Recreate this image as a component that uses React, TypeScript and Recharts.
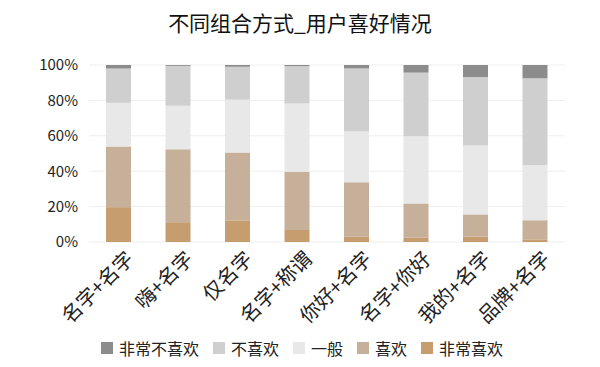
import React from 'react';
import { BarChart, Bar, XAxis, YAxis, CartesianGrid, Legend } from 'recharts';

const categories = ['名字+名字', '嗨+名字', '仅名字', '名字+称谓', '你好+名字', '名字+你好', '我的+名字', '品牌+名字'];
const veryDislike = [2, 0.5, 1, 0.6, 1.9, 4.3, 6.8, 7.5];
const dislike = [19.4, 22.5, 18.6, 21.2, 35.7, 35.9, 38.7, 49.2];
const neutral = [24.6, 24.6, 29.9, 38.5, 28.6, 38, 38.9, 31];
const like = [34.3, 41.2, 38.3, 32.9, 30.8, 19.2, 12.6, 10.8];
const veryLike = [19.7, 11.2, 12.2, 6.8, 3, 2.6, 3, 1.5];
const yTicks = [0, 20, 40, 60, 80, 100];

// bottom to top
const SERIES = [
  { key: '非常喜欢', values: veryLike, color: '#c69d6f' },
  { key: '喜欢', values: like, color: '#c7b09a' },
  { key: '一般', values: neutral, color: '#e8e8e8' },
  { key: '不喜欢', values: dislike, color: '#cfcfcf' },
  { key: '非常不喜欢', values: veryDislike, color: '#8c8c8c' },
];

const data = categories.map((name, i) => {
  const row: any = { name };
  SERIES.forEach((s) => { row[s.key] = s.values[i]; });
  return row;
});

const FONT = '"Noto Sans CJK SC", "Noto Sans", sans-serif';

const LegendContent = () => (
  <div style={{ display: 'flex', justifyContent: 'center', fontFamily: FONT, fontSize: 16, color: '#222', marginLeft: 18, marginTop: 2 }}>
    {[...SERIES].reverse().map((s) => (
      <div key={s.key} style={{ display: 'flex', alignItems: 'center', marginRight: 14 }}>
        <span style={{ width: 12, height: 12, background: s.color, display: 'inline-block', marginRight: 6 }} />
        <span>{s.key}</span>
      </div>
    ))}
  </div>
);

const App: React.FC = () => (
  <div style={{ position: 'absolute', left: 0, top: 0, width: 600, height: 367, background: '#fff', fontFamily: FONT }}>
    <div style={{ position: 'absolute', top: 7, width: 600, textAlign: 'center', fontSize: 21, color: '#111' }}>
      不同组合方式_用户喜好情况
    </div>
    <BarChart width={600} height={367} data={data} margin={{ top: 65, right: 35, bottom: 7, left: 0 }}>
      <CartesianGrid vertical={false} stroke="#eeeeee" />
      <XAxis
        dataKey="name"
        axisLine={false}
        tickLine={false}
        interval={0}
        angle={-45}
        textAnchor="end"
        height={92}
        tick={{ fontSize: 20, fill: '#222', fontFamily: FONT, dx: 6 }}
      />
      <YAxis
        width={89}
        domain={[0, 100]}
        ticks={yTicks}
        tickFormatter={(v) => `${v}%`}
        axisLine={false}
        tickLine={false}
        tickMargin={5}
        tick={{ fontSize: 15, fill: '#222', fontFamily: FONT }}
      />
      {SERIES.map((s) => (
        <Bar key={s.key} dataKey={s.key} stackId="a" fill={s.color} barSize={25} isAnimationActive={false} />
      ))}
      <Legend content={LegendContent} wrapperStyle={{ left: 0, width: 600 }} />
    </BarChart>
  </div>
);

export default App;
